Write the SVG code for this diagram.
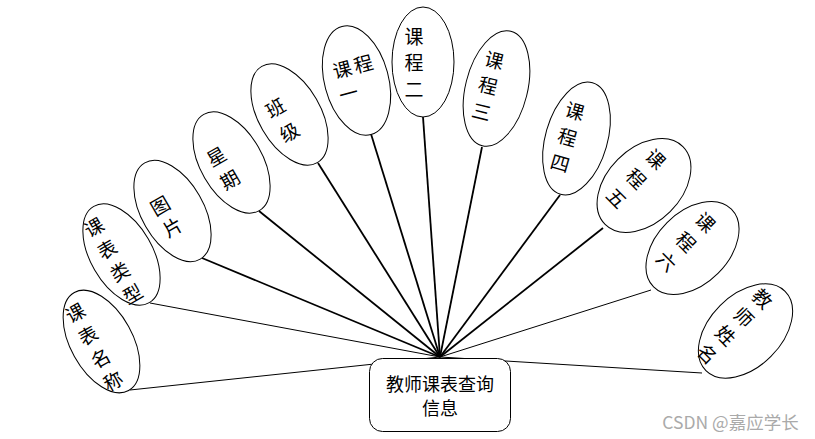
<svg xmlns="http://www.w3.org/2000/svg" width="815" height="439" viewBox="0 0 815 439">
<style>
.e{fill:#fff;stroke:#000;stroke-width:1}
.t{font-family:"Noto Sans CJK SC","Noto Sans",sans-serif;font-size:19px;fill:#000;text-anchor:middle;dominant-baseline:central}
.bold{stroke:#000;stroke-width:1.8;fill:none}
.thin{stroke:#000;stroke-width:1;fill:none}
</style>
<rect width="815" height="439" fill="#fff"/>
<g id="connectors">
<line class="thin" x1="130" y1="390" x2="440" y2="357"/>
<line class="thin" x1="150" y1="303" x2="440" y2="357"/>
<line class="bold" x1="202" y1="258" x2="440" y2="357"/>
<line class="bold" x1="259" y1="211" x2="440" y2="357"/>
<line class="bold" x1="318" y1="163" x2="440" y2="357"/>
<line class="bold" x1="371" y1="134" x2="440" y2="357"/>
<line class="bold" x1="423" y1="117" x2="440" y2="357"/>
<line class="bold" x1="482" y1="147" x2="440" y2="357"/>
<line class="bold" x1="560" y1="195" x2="440" y2="357"/>
<line class="bold" x1="603" y1="228" x2="440" y2="357"/>
<line class="thin" x1="651" y1="290" x2="440" y2="357"/>
<line class="thin" x1="702" y1="373" x2="440" y2="357"/>
</g>
<g id="n-kbmc" transform="translate(101.5,341.5) rotate(-29)">
<ellipse class="e" rx="31" ry="56"/>
<text class="t" x="-9" y="-39">课</text><text class="t" x="-9" y="-13">表</text><text class="t" x="-9" y="13">名</text><text class="t" x="-9" y="39">称</text>
</g>
<g id="n-kblx" transform="translate(121.5,254.5) rotate(-30)">
<ellipse class="e" rx="31" ry="55.5"/>
<text class="t" x="-10" y="-38.5">课</text><text class="t" x="-10" y="-12.8">表</text><text class="t" x="-10" y="12.8">类</text><text class="t" x="-10" y="38.5">型</text>
</g>
<g id="n-tp" transform="translate(172.5,211) rotate(-30)">
<ellipse class="e" rx="31" ry="55.5"/>
<text class="t" x="-8" y="-12">图</text><text class="t" x="-8" y="13">片</text>
</g>
<g id="n-xq" transform="translate(231.5,162.5) rotate(-30)">
<ellipse class="e" rx="31" ry="55.5"/>
<text class="t" x="-10" y="-14">星</text><text class="t" x="-10" y="13">期</text>
</g>
<g id="n-bj" transform="translate(289.5,114.5) rotate(-30)">
<ellipse class="e" rx="31" ry="55.5"/>
<text class="t" x="-9" y="-14">班</text><text class="t" x="-9" y="14">级</text>
</g>
<g id="n-kc1" transform="translate(356.5,80.5) rotate(-15)">
<ellipse class="e" rx="32" ry="56"/>
<text class="t" x="-11" y="-15.5">课</text><text class="t" x="11" y="-15.5">程</text><text class="t" x="-11" y="9">一</text>
</g>
<g id="n-kc2" transform="translate(423,62)">
<ellipse class="e" rx="31" ry="55"/>
<text class="t" x="-9" y="-27">课</text><text class="t" x="-9" y="-1">程</text><text class="t" x="-9" y="26">二</text>
</g>
<g id="n-kc3" transform="translate(496.5,88.5) rotate(14)">
<ellipse class="e" rx="31" ry="59"/>
<text class="t" x="-9" y="-28">课</text><text class="t" x="-9" y="-2">程</text><text class="t" x="-9" y="25">三</text>
</g>
<g id="n-kc4" transform="translate(576.5,138.5) rotate(16)">
<ellipse class="e" rx="31" ry="58"/>
<text class="t" x="-9" y="-27">课</text><text class="t" x="-9" y="0">程</text><text class="t" x="-9" y="27">四</text>
</g>
<g id="n-kc5" transform="translate(644,185.5) rotate(45)">
<ellipse class="e" rx="37" ry="55"/>
<text class="t" x="-10.5" y="-28">课</text><text class="t" x="-10.5" y="-0.7">程</text><text class="t" x="-10.5" y="27">五</text>
</g>
<g id="n-kc6" transform="translate(692.5,248) rotate(45)">
<ellipse class="e" rx="36" ry="55"/>
<text class="t" x="-9" y="-28.5">课</text><text class="t" x="-9" y="-1">程</text><text class="t" x="-9" y="26.5">六</text>
</g>
<g id="n-jsxm" transform="translate(745.5,331) rotate(45)">
<ellipse class="e" rx="36" ry="56"/>
<text class="t" x="-11" y="-36">教</text><text class="t" x="-11" y="-10">师</text><text class="t" x="-11" y="16">姓</text><text class="t" x="-11" y="42">名</text>
</g>
<g id="n-main">
<rect x="369.5" y="358.5" width="141" height="73" rx="13" fill="#fff" stroke="#000" stroke-width="1"/>
<text class="t" x="440" y="383" style="font-size:18px">教师课表查询</text>
<text class="t" x="440" y="407" style="font-size:18px">信息</text>
</g>
<text x="730.5" y="421" font-family="'Noto Sans CJK SC','Noto Sans',sans-serif" font-size="17.5" fill="#aaaaaa" text-anchor="middle" dominant-baseline="central">CSDN @嘉应学长</text>
</svg>
